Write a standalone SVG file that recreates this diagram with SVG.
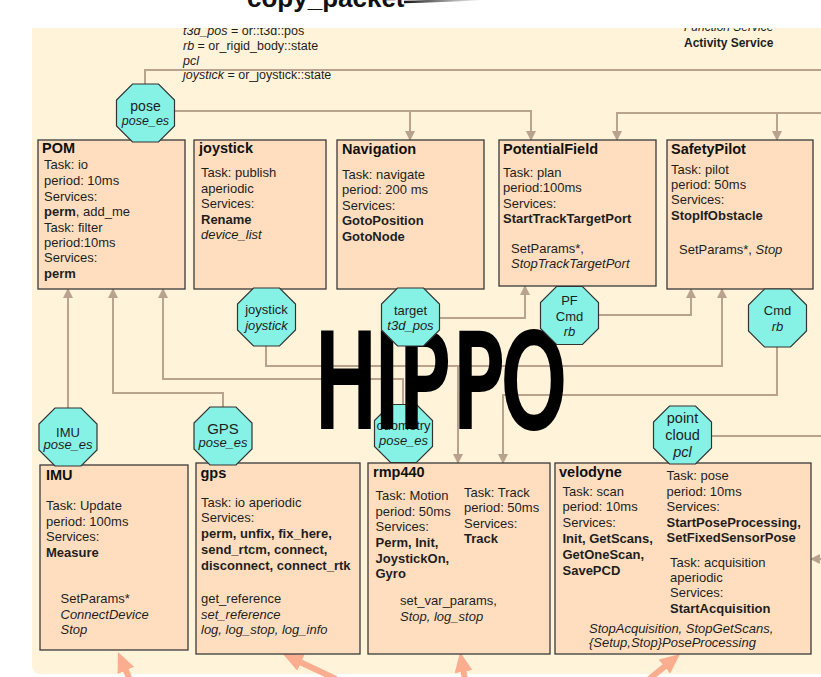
<svg xmlns="http://www.w3.org/2000/svg" xmlns:xlink="http://www.w3.org/1999/xlink" width="821" height="677" viewBox="0 0 821 677">
  <style>
    .panel { fill: #FFF3DA; }
    .box { fill: #FFDEBF; stroke: #3a3a3a; stroke-width: 1.3; }
    .oct { fill: #86F2E6; stroke: #333; stroke-width: 1.2; }
    .t { font-family: 'Liberation Sans', Arial, Helvetica, sans-serif; font-size: 13px; fill: #1e1e1e; }
    .ttl { font-weight: bold; font-size: 14.5px; fill: #111; }
    .b { font-weight: bold; }
    .i { font-style: italic; }
    .c { text-anchor: middle; }
    .conn { fill: none; stroke: #B9A28E; stroke-width: 2; }
    .hot { fill: none; stroke: #FBAE8F; stroke-width: 6; }
  </style>
  <defs>
    <polygon id="octagon" points="-13,-29 13,-29 29,-13 29,13 13,29 -13,29 -29,13 -29,-13"/>
    <marker id="arr" markerUnits="userSpaceOnUse" markerWidth="10" markerHeight="10" viewBox="0 0 10 10" refX="9" refY="5" orient="auto">
      <path d="M0,0 L10,5 L0,10 z" fill="#B9A28E"/>
    </marker>
    <marker id="hotarr" markerUnits="userSpaceOnUse" markerWidth="20" markerHeight="18" viewBox="0 0 20 18" refX="10" refY="9" orient="auto">
      <path d="M0,0 L20,9 L0,18 z" fill="#FBAE8F"/>
    </marker>
    <linearGradient id="fade" x1="0" y1="0" x2="1" y2="0">
      <stop offset="0" stop-color="#111"/>
      <stop offset="0.25" stop-color="#555"/>
      <stop offset="1" stop-color="#fff"/>
    </linearGradient>
  </defs>

  <!-- page and panel -->
  <rect x="0" y="0" width="821" height="677" fill="#fff"/>
  <path class="panel" d="M32,28 H821 V674 H41 Q32,674 32,665 Z"/>

  <!-- legend / type notes -->
  <g id="type-notes" class="t" style="font-size:12.5px">
    <text x="183" y="35"><tspan class="i">t3d_pos</tspan> = or::t3d::pos</text>
    <text x="183" y="50"><tspan class="i">rb</tspan> = or_rigid_body::state</text>
    <text x="183" y="64.5" class="i">pcl</text>
    <text x="183" y="79"><tspan class="i">joystick</tspan> = or_joystick::state</text>
  </g>
  <g id="legend" class="t" style="font-size:12px">
    <text x="684" y="31" class="i">Function Service</text>
    <text x="684" y="46.5" class="b">Activity Service</text>
  </g>

  <!-- connectors -->
  <g id="connectors">
    <path class="conn" d="M145,84 V70 H821"/>
    <path class="conn" d="M174,111 H531 V140" marker-end="url(#arr)"/>
    <path class="conn" d="M410,111 V140" marker-end="url(#arr)"/>
    <path class="conn" d="M821,113 H617 V140" marker-end="url(#arr)"/>
    <path class="conn" d="M777,113 V140" marker-end="url(#arr)"/>
    <path class="conn" d="M68,408 V289" marker-end="url(#arr)"/>
    <path class="conn" d="M223,407 V393 H113 V289" marker-end="url(#arr)"/>
    <path class="conn" d="M403,405 V379 H163 V289" marker-end="url(#arr)"/>
    <path class="conn" d="M266,346 V366 H722 V289" marker-end="url(#arr)"/>
    <path class="conn" d="M458,366 V463" marker-end="url(#arr)"/>
    <path class="conn" d="M439,318 H525 V286" marker-end="url(#arr)"/>
    <path class="conn" d="M598,315 H691 V289" marker-end="url(#arr)"/>
    <path class="conn" d="M777,347 V395 H503 V463" marker-end="url(#arr)"/>
    <path class="conn" d="M712,436 H821"/>
    <path class="conn" d="M821,559 H811" marker-end="url(#arr)"/>
    <!-- incoming links from below -->
    <line class="hot" x1="130" y1="680" x2="121.9" y2="661.2" marker-end="url(#hotarr)"/>
    <line class="hot" x1="336" y1="679" x2="292" y2="658.3" marker-end="url(#hotarr)"/>
    <line class="hot" x1="465" y1="680" x2="461.8" y2="661.8" marker-end="url(#hotarr)"/>
    <line class="hot" x1="648" y1="680" x2="672.2" y2="660.3" marker-end="url(#hotarr)"/>
  </g>

  <!-- components, upper row -->
  <g id="POM" class="t">
    <rect class="box" x="38" y="140" width="147" height="149"/>
    <text x="42" y="153" class="ttl">POM</text>
    <text x="44" y="169">Task: io</text>
    <text x="44" y="185">period: 10ms</text>
    <text x="44" y="200.5">Services:</text>
    <text x="44" y="216"><tspan class="b">perm</tspan>, add_me</text>
    <text x="44" y="231.5">Task: filter</text>
    <text x="44" y="247">period:10ms</text>
    <text x="44" y="262">Services:</text>
    <text x="44" y="277.5" class="b">perm</text>
  </g>
  <g id="joystick" class="t">
    <rect class="box" x="194" y="140" width="132" height="149"/>
    <text x="199" y="153" class="ttl">joystick</text>
    <text x="201" y="177">Task: publish</text>
    <text x="201" y="192.5">aperiodic</text>
    <text x="201" y="208">Services:</text>
    <text x="201" y="223.5" class="b">Rename</text>
    <text x="201" y="239" class="i">device_list</text>
  </g>
  <g id="Navigation" class="t">
    <rect class="box" x="337" y="140" width="147" height="149"/>
    <text x="342" y="154" class="ttl">Navigation</text>
    <text x="342" y="178.5">Task: navigate</text>
    <text x="342" y="194">period: 200 ms</text>
    <text x="342" y="209.5">Services:</text>
    <text x="342" y="225" class="b">GotoPosition</text>
    <text x="342" y="240.5" class="b">GotoNode</text>
  </g>
  <g id="PotentialField" class="t">
    <rect class="box" x="499" y="140" width="157" height="146"/>
    <text x="503" y="154" class="ttl">PotentialField</text>
    <text x="503" y="176.5">Task: plan</text>
    <text x="503" y="192">period:100ms</text>
    <text x="503" y="207.5">Services:</text>
    <text x="503" y="223" class="b">StartTrackTargetPort</text>
    <text x="511" y="252.5">SetParams*,</text>
    <text x="511" y="268" class="i">StopTrackTargetPort</text>
  </g>
  <g id="SafetyPilot" class="t">
    <rect class="box" x="667" y="140" width="146" height="149"/>
    <text x="671" y="154" class="ttl">SafetyPilot</text>
    <text x="671" y="174">Task: pilot</text>
    <text x="671" y="189">period: 50ms</text>
    <text x="671" y="204">Services:</text>
    <text x="671" y="219.5" class="b">StopIfObstacle</text>
    <text x="679" y="253.5">SetParams*, <tspan class="i">Stop</tspan></text>
  </g>

  <!-- components, lower row -->
  <g id="IMU" class="t">
    <rect class="box" x="40" y="465" width="148" height="185"/>
    <text x="46" y="480" class="ttl">IMU</text>
    <text x="46" y="510">Task: Update</text>
    <text x="46" y="525.5">period: 100ms</text>
    <text x="46" y="541">Services:</text>
    <text x="46" y="557" class="b">Measure</text>
    <text x="60.5" y="603">SetParams*</text>
    <text x="60.5" y="618.5" class="i">ConnectDevice</text>
    <text x="60.5" y="634" class="i">Stop</text>
  </g>
  <g id="gps" class="t">
    <rect class="box" x="196" y="463" width="164" height="191"/>
    <text x="200.5" y="478" class="ttl">gps</text>
    <text x="201" y="506.5">Task: io aperiodic</text>
    <text x="201" y="522">Services:</text>
    <text x="201" y="538" class="b">perm, unfix, fix_here,</text>
    <text x="201" y="554" class="b">send_rtcm, connect,</text>
    <text x="201" y="570" class="b">disconnect, connect_rtk</text>
    <text x="201" y="603">get_reference</text>
    <text x="201" y="618.5" class="i">set_reference</text>
    <text x="201" y="634" class="i">log, log_stop, log_info</text>
  </g>
  <g id="rmp440" class="t">
    <rect class="box" x="368" y="463" width="182" height="191"/>
    <text x="373" y="477" class="ttl">rmp440</text>
    <text x="375.5" y="500">Task: Motion</text>
    <text x="375.5" y="515.5">period: 50ms</text>
    <text x="375.5" y="531">Services:</text>
    <text x="375.5" y="547" class="b">Perm, Init,</text>
    <text x="375.5" y="562.5" class="b">JoystickOn,</text>
    <text x="375.5" y="578" class="b">Gyro</text>
    <text x="464" y="496.5">Task: Track</text>
    <text x="464" y="512">period: 50ms</text>
    <text x="464" y="527.5">Services:</text>
    <text x="464" y="543" class="b">Track</text>
    <text x="400" y="605">set_var_params,</text>
    <text x="400" y="620.5" class="i">Stop, log_stop</text>
  </g>
  <g id="velodyne" class="t">
    <rect class="box" x="555" y="463" width="256" height="191"/>
    <text x="559" y="477" class="ttl">velodyne</text>
    <text x="562.5" y="495.5">Task: scan</text>
    <text x="562.5" y="511">period: 10ms</text>
    <text x="562.5" y="526.5">Services:</text>
    <text x="562.5" y="542.5" class="b">Init, GetScans,</text>
    <text x="562.5" y="558.5" class="b">GetOneScan,</text>
    <text x="562.5" y="574.5" class="b">SavePCD</text>
    <text x="666.5" y="480">Task: pose</text>
    <text x="666.5" y="495.5">period: 10ms</text>
    <text x="666.5" y="511">Services:</text>
    <text x="666.5" y="526.5" class="b">StartPoseProcessing,</text>
    <text x="666.5" y="542" class="b">SetFixedSensorPose</text>
    <text x="670" y="566.5">Task: acquisition</text>
    <text x="670" y="582">aperiodic</text>
    <text x="670" y="597">Services:</text>
    <text x="670" y="613" class="b">StartAcquisition</text>
    <text x="589" y="632.5" class="i">StopAcquisition, StopGetScans,</text>
    <text x="589" y="647" class="i">{Setup,Stop}PoseProcessing</text>
  </g>

  <!-- port under the watermark -->
  <g id="port-odometry" class="t c">
    <use xlink:href="#octagon" class="oct" transform="translate(403.5,433.5)"/>
    <text x="403.5" y="430">odometry</text>
    <text x="403.5" y="444.5" class="i">pose_es</text>
  </g>

  <!-- watermark: narrow letters, positioned glyph by glyph -->
  <text id="watermark" transform="translate(0,426) scale(0.72,1)" x="438 521 555 630 697" y="0" style="font-family:'DejaVu Sans Condensed','DejaVu Sans',sans-serif;font-weight:normal;font-size:126px;fill:#000;stroke:#000;stroke-width:6">HIPPO</text>

  <!-- ports -->
  <g id="port-pose" class="t c">
    <use xlink:href="#octagon" class="oct" transform="translate(145.5,113)"/>
    <text x="145.5" y="110.5" style="font-size:14px">pose</text>
    <text x="145.5" y="125" class="i" style="font-size:12.5px">pose_es</text>
  </g>
  <g id="port-joystick" class="t c">
    <use xlink:href="#octagon" class="oct" transform="translate(266.5,317)"/>
    <text x="266.5" y="314">joystick</text>
    <text x="266.5" y="329.5" class="i">joystick</text>
  </g>
  <g id="port-target" class="t c">
    <use xlink:href="#octagon" class="oct" transform="translate(410.5,317)"/>
    <text x="410.5" y="315">target</text>
    <text x="410.5" y="329.5" class="i">t3d_pos</text>
  </g>
  <g id="port-pf-cmd" class="t c">
    <use xlink:href="#octagon" class="oct" transform="translate(569.5,315.5)"/>
    <text x="569.5" y="305">PF</text>
    <text x="569.5" y="320.5">Cmd</text>
    <text x="569.5" y="336" class="i">rb</text>
  </g>
  <g id="port-cmd" class="t c">
    <use xlink:href="#octagon" class="oct" transform="translate(777.5,318)"/>
    <text x="777.5" y="315">Cmd</text>
    <text x="777.5" y="330.5" class="i">rb</text>
  </g>
  <g id="port-imu" class="t c">
    <use xlink:href="#octagon" class="oct" transform="translate(68,437)"/>
    <text x="68" y="436.5">IMU</text>
    <text x="68" y="449" class="i">pose_es</text>
  </g>
  <g id="port-gps" class="t c">
    <use xlink:href="#octagon" class="oct" transform="translate(223,436)"/>
    <text x="223" y="433.5" style="font-size:15px">GPS</text>
    <text x="223" y="447" class="i">pose_es</text>
  </g>
  <g id="port-pointcloud" class="t c" style="font-size:14.5px">
    <use xlink:href="#octagon" class="oct" transform="translate(682.5,435)"/>
    <text x="682.5" y="422.5">point</text>
    <text x="682.5" y="440">cloud</text>
    <text x="682.5" y="456.5" class="i">pcl</text>
  </g>

  <!-- page header above the panel -->
  <rect x="0" y="0" width="821" height="28" fill="#fff"/>
  <text x="247" y="7" style="font-family:'Liberation Sans',Arial,sans-serif;font-weight:bold;font-size:26px;fill:#111">copy_packet</text>
  <path d="M404,2 Q440,1 482,-1" fill="none" stroke="url(#fade)" stroke-width="2.5"/>
</svg>
